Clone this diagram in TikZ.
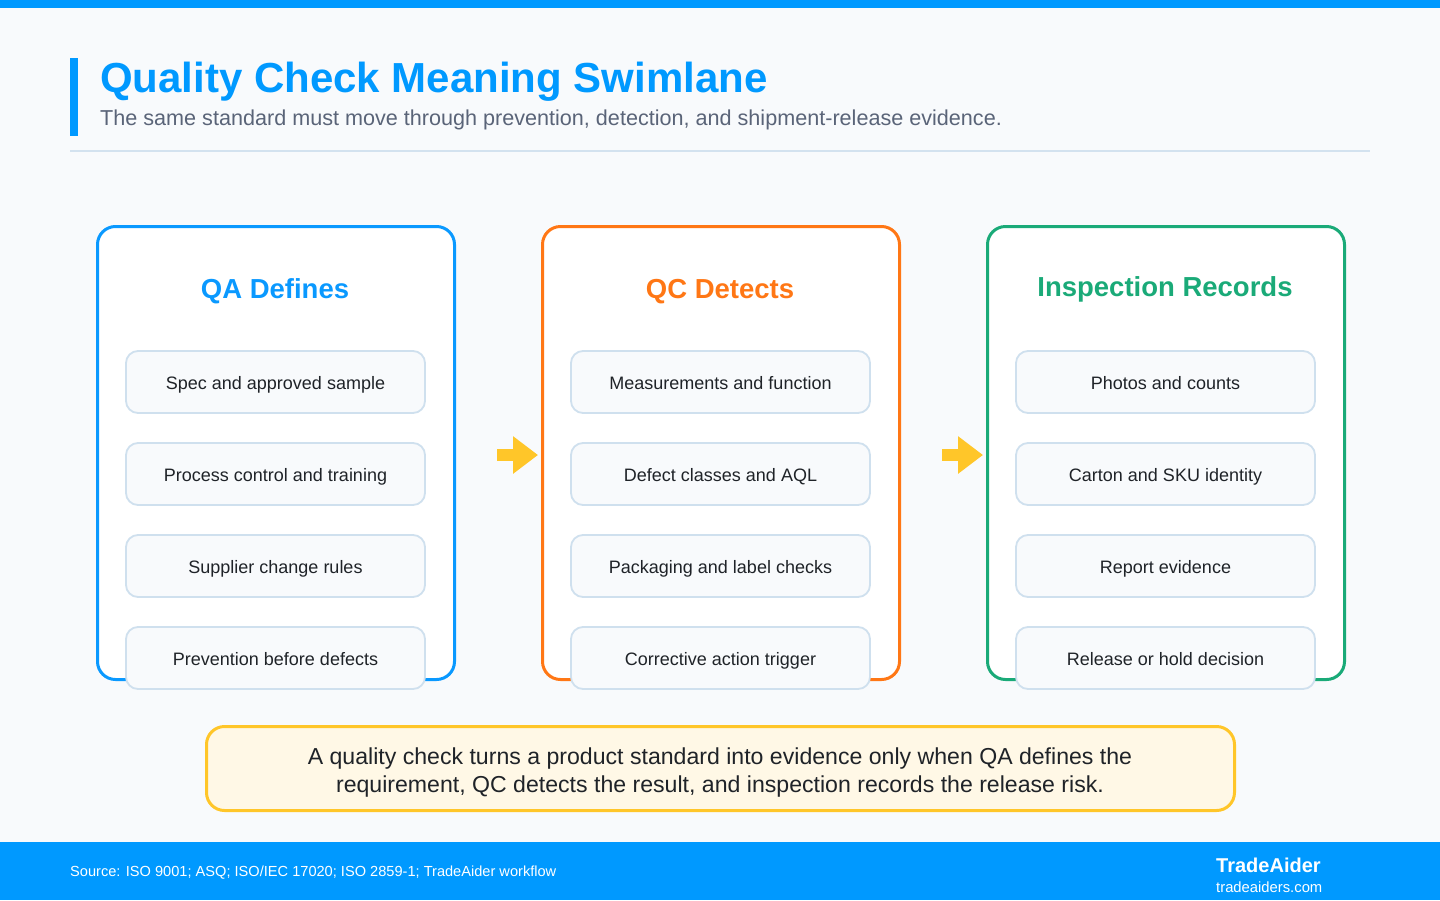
\documentclass[tikz,border=0pt]{standalone}
\usepackage{fontspec}
\setmainfont{Liberation Sans}
\usetikzlibrary{arrows.meta}
\definecolor{bg}{HTML}{F8FAFC}
\definecolor{brand}{HTML}{0099FF}
\definecolor{sub}{HTML}{5A6478}
\definecolor{rule}{HTML}{D3E2EF}
\definecolor{qa}{HTML}{0A99FF}
\definecolor{qc}{HTML}{FF7715}
\definecolor{ir}{HTML}{1AAA78}
\definecolor{itemline}{HTML}{CFE0EE}
\definecolor{itemfill}{HTML}{F8FAFC}
\definecolor{txt}{HTML}{1F2328}
\definecolor{amber}{HTML}{FFC629}
\definecolor{notefill}{HTML}{FFF8E6}
\newcommand{\fs}[2]{\fontsize{#1}{#2}\selectfont}
\tikzset{
  lanebox/.style={draw=#1, line width=3pt, fill=white, rounded corners=18pt,
    minimum width=357pt, minimum height=453pt, anchor=north west, inner sep=0pt, outer sep=0pt},
  lanetitle/.style={text=#1, font=\fs{27.5}{33}\bfseries, anchor=base, inner sep=0pt},
  itembox/.style={draw=itemline, line width=1.8pt, fill=itemfill, rounded corners=12pt,
    minimum width=299pt, minimum height=62pt, anchor=north west, inner sep=0pt, outer sep=0pt,
    text height=18pt, text depth=4pt, font=\fs{18}{22}, text=txt},
  flowarrow/.style={draw=amber, line width=12pt,
    -{Triangle[length=25pt,width=36pt]}},
}
\begin{document}
\begin{tikzpicture}[x=1pt,y=-1pt]
\useasboundingbox (0,0) rectangle (1440,900);
\fill[bg] (0,0) rectangle (1440,900);
\fill[brand] (0,0) rectangle (1440,8);
% header
\fill[brand] (70,58) rectangle (78,136);
\node[anchor=base west, inner sep=0pt, text=brand, font=\fs{42}{50}\bfseries] (title) at (100,92) {Quality Check Meaning Swimlane};
\node[anchor=base west, inner sep=0pt, text=sub, font=\fs{21.6}{26}] (subtitle) at (100,125) {The same standard must move through prevention, detection, and shipment-release evidence.};
\draw[rule, line width=2pt] (70,151) -- (1370,151);
% lanes
\node[lanebox=qa] (lane1) at (97.5,226.5) {};
\node[lanebox=qc] (lane2) at (542.5,226.5) {};
\node[lanebox=ir] (lane3) at (987.5,226.5) {};
\node[lanetitle=qa] (t1) at (275,298) {QA Defines};
\node[lanetitle=qc] (t2) at (720,298) {QC Detects};
\node[lanetitle=ir] (t3) at (1165,296) {Inspection Records};
% lane 1 items
\node[itembox] (a1) at (126,351) {Spec and approved sample};
\node[itembox] (a2) at (126,443) {Process control and training};
\node[itembox] (a3) at (126,535) {Supplier change rules};
\node[itembox] (a4) at (126,627) {Prevention before defects};
% lane 2 items
\node[itembox] (b1) at (571,351) {Measurements and function};
\node[itembox] (b2) at (571,443) {Defect classes and AQL};
\node[itembox] (b3) at (571,535) {Packaging and label checks};
\node[itembox] (b4) at (571,627) {Corrective action trigger};
% lane 3 items
\node[itembox] (c1) at (1016,351) {Photos and counts};
\node[itembox] (c2) at (1016,443) {Carton and SKU identity};
\node[itembox] (c3) at (1016,535) {Report evidence};
\node[itembox] (c4) at (1016,627) {Release or hold decision};
% arrows
\coordinate (f1s) at (497,455);
\coordinate (f1e) at (538,455);
\coordinate (f2s) at (942,455);
\coordinate (f2e) at (983,455);
\draw[flowarrow] (f1s) -- (f1e);
\draw[flowarrow] (f2s) -- (f2e);
% note
\node[draw=amber, line width=3pt, fill=notefill, rounded corners=18pt, outer sep=0pt,
  minimum width=1028pt, minimum height=84pt, anchor=north west, inner sep=0pt] (note) at (206.5,726.5) {};
\node[align=center, font=\fs{23.1}{27.5}, text=txt, inner sep=0pt] (notetext) at (720,772.5)
  {A quality check turns a product standard into evidence only when QA defines the\\
   requirement, QC detects the result, and inspection records the release risk.};
% footer
\fill[brand] (0,842) rectangle (1440,900);
\node[anchor=base west, inner sep=0pt, text=white, font=\fs{14.6}{17}] (source) at (70,876) {Source: ISO 9001; ASQ; ISO/IEC 17020; ISO 2859-1; TradeAider workflow};
\node[anchor=base west, inner sep=0pt, text=white, font=\fs{20}{24}\bfseries] (brandname) at (1216,872) {TradeAider};
\node[anchor=base west, inner sep=0pt, text=white, font=\fs{14.8}{18}] (site) at (1216,892) {tradeaiders.com};
\end{tikzpicture}
\end{document}
